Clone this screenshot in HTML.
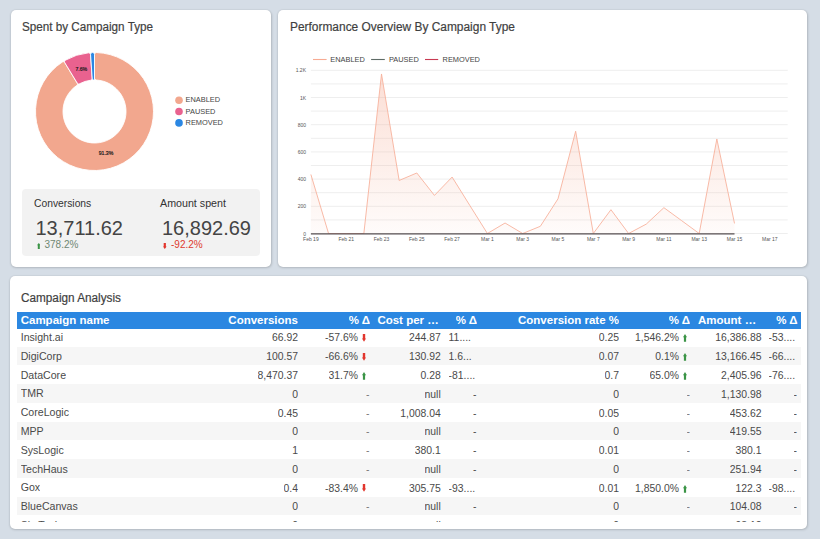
<!DOCTYPE html>
<html><head><meta charset="utf-8">
<style>
html,body{margin:0;padding:0;}
body{width:820px;height:539px;background:#d5dde6;position:relative;overflow:hidden;font-family:"Liberation Sans",sans-serif;}
.card{position:absolute;background:#fff;border-radius:5px;box-shadow:0 0 2px rgba(0,0,0,0.12),0.5px 1px 2.5px rgba(0,0,0,0.14);}
.title{position:absolute;color:#3f3f3f;font-size:12.3px;white-space:nowrap;transform-origin:0 0;-webkit-text-stroke:0.2px #3f3f3f;}
.stat{position:absolute;left:22px;top:189px;width:238px;height:67px;background:#f2f2f2;border-radius:4px;}
.slab{position:absolute;color:#333;font-size:10.3px;white-space:nowrap;}
.sval{position:absolute;color:#444;font-size:20px;white-space:nowrap;}
.sdel{position:absolute;font-size:10px;white-space:nowrap;}
svg.main{position:absolute;left:0;top:0;}
.ax{font-family:"Liberation Sans",sans-serif;font-size:5.0px;fill:#555;}
.lg{font-family:"Liberation Sans",sans-serif;font-size:7.4px;fill:#444;}
.dl{font-family:"Liberation Sans",sans-serif;font-size:5.2px;fill:#1a1a1a;stroke:#1a1a1a;stroke-width:0.18px;}
.thead{position:absolute;left:17px;top:311.9px;width:784px;height:17px;z-index:2;background:#2b87e1;}
.th{position:absolute;top:0;height:16.6px;line-height:16.6px;color:#fff;font-weight:bold;font-size:11.5px;white-space:nowrap;overflow:hidden;}
.tbody{position:absolute;left:17px;top:327.9px;width:784px;height:194.3px;overflow:hidden;}
.r{position:absolute;left:0;width:784px;height:18.76px;background:#fff;}
.r.odd{background:#f6f6f6;height:19.5px;}
.c{position:absolute;top:1.6px;height:18.85px;line-height:18.85px;font-size:10.4px;color:#4a4a4a;white-space:nowrap;text-align:right;overflow:hidden;}
.c1{left:3.7px;text-align:left;font-size:10.6px;top:0.3px;}
.c2{right:503px;}
.c3{right:431.5px;}
.c4{right:360.3px;}
.c5{right:324.5px;}
.c5.l{left:431.6px;right:auto;text-align:left;}
.c6{right:182px;}
.c7{right:111px;}
.c8{right:39.5px;}
.c9{right:4px;}
.c9.l{left:751.5px;right:auto;text-align:left;}
.ar{position:absolute;}
.c3.wa{padding-right:11.5px;right:431.5px;}
.c7.wa{padding-right:11px;right:111px;}
.c3 .ar{right:3.3px;}
.c7 .ar{right:3.3px;}
.ar.dn{top:4.5px;}
.ar.up{top:5.0px;}
.dash{color:#777;}
</style></head><body>
<div class="card" style="left:10.7px;top:9.5px;width:260.6px;height:257px;"></div>
<div class="card" style="left:277.9px;top:9.5px;width:529.1px;height:257px;"></div>
<div class="card" style="left:9.7px;top:276px;width:797.3px;height:253.3px;"></div>

<div class="title" style="left:21.8px;top:20.4px;transform:scaleX(0.95);">Spent by Campaign Type</div>
<div class="title" style="left:289.6px;top:20.4px;transform:scaleX(0.969);">Performance Overview By Campaign Type</div>
<div class="title" style="left:20.8px;top:291.2px;transform:scaleX(0.956);">Campaign Analysis</div>

<div class="stat"></div>
<div class="slab" style="left:34px;top:198px;">Conversions</div>
<div class="slab" style="left:160px;top:197.1px;font-size:10.7px;">Amount spent</div>
<div class="sval" style="left:35.5px;top:216.5px;">13,711.62</div>
<div class="sval" style="left:162px;top:216.5px;">16,892.69</div>
<div class="sdel" style="left:36px;top:238.5px;color:#6f8872;"><svg width="3.6" height="6.2" viewBox="0 0 3.6 8" preserveAspectRatio="none" style="position:absolute;left:0.6px;top:4.2px"><path d="M1.8,0 L3.6,3 H2.8 V7.8 H0.8 V3 H0 Z" fill="#3b9446"/></svg><span style="position:absolute;left:8.5px;top:0">378.2%</span></div>
<div class="sdel" style="left:162.5px;top:238.5px;color:#de3b30;"><svg width="3.6" height="6.2" viewBox="0 0 3.6 8" preserveAspectRatio="none" style="position:absolute;left:0.6px;top:4.2px"><path d="M0.7,0 H2.9 V4.6 H3.6 L1.8,7.8 L0,4.6 H0.7 Z" fill="#e2362d"/></svg><span style="position:absolute;left:8.5px;top:0">-92.2%</span></div>

<svg class="main" width="820" height="539" viewBox="0 0 820 539">
<line x1="310.9" y1="233.50" x2="787.7" y2="233.50" stroke="#ececec" stroke-width="0.9"/>
<line x1="310.9" y1="219.90" x2="787.7" y2="219.90" stroke="#ececec" stroke-width="0.9"/>
<line x1="310.9" y1="206.30" x2="787.7" y2="206.30" stroke="#ececec" stroke-width="0.9"/>
<line x1="310.9" y1="192.70" x2="787.7" y2="192.70" stroke="#ececec" stroke-width="0.9"/>
<line x1="310.9" y1="179.10" x2="787.7" y2="179.10" stroke="#ececec" stroke-width="0.9"/>
<line x1="310.9" y1="165.50" x2="787.7" y2="165.50" stroke="#ececec" stroke-width="0.9"/>
<line x1="310.9" y1="151.90" x2="787.7" y2="151.90" stroke="#ececec" stroke-width="0.9"/>
<line x1="310.9" y1="138.30" x2="787.7" y2="138.30" stroke="#ececec" stroke-width="0.9"/>
<line x1="310.9" y1="124.70" x2="787.7" y2="124.70" stroke="#ececec" stroke-width="0.9"/>
<line x1="310.9" y1="111.10" x2="787.7" y2="111.10" stroke="#ececec" stroke-width="0.9"/>
<line x1="310.9" y1="97.50" x2="787.7" y2="97.50" stroke="#ececec" stroke-width="0.9"/>
<line x1="310.9" y1="83.90" x2="787.7" y2="83.90" stroke="#ececec" stroke-width="0.9"/>
<line x1="310.9" y1="70.30" x2="787.7" y2="70.30" stroke="#ececec" stroke-width="0.9"/>
<text x="306" y="235.50" text-anchor="end" class="ax">0</text>
<text x="306" y="208.30" text-anchor="end" class="ax">200</text>
<text x="306" y="181.10" text-anchor="end" class="ax">400</text>
<text x="306" y="153.90" text-anchor="end" class="ax">600</text>
<text x="306" y="126.70" text-anchor="end" class="ax">800</text>
<text x="306" y="99.50" text-anchor="end" class="ax">1K</text>
<text x="306" y="72.30" text-anchor="end" class="ax">1.2K</text>
<text x="310.90" y="241" text-anchor="middle" class="ax">Feb 19</text>
<text x="346.20" y="241" text-anchor="middle" class="ax">Feb 21</text>
<text x="381.50" y="241" text-anchor="middle" class="ax">Feb 23</text>
<text x="416.80" y="241" text-anchor="middle" class="ax">Feb 25</text>
<text x="452.10" y="241" text-anchor="middle" class="ax">Feb 27</text>
<text x="487.40" y="241" text-anchor="middle" class="ax">Mar 1</text>
<text x="522.70" y="241" text-anchor="middle" class="ax">Mar 3</text>
<text x="558.00" y="241" text-anchor="middle" class="ax">Mar 5</text>
<text x="593.30" y="241" text-anchor="middle" class="ax">Mar 7</text>
<text x="628.60" y="241" text-anchor="middle" class="ax">Mar 9</text>
<text x="663.90" y="241" text-anchor="middle" class="ax">Mar 11</text>
<text x="699.20" y="241" text-anchor="middle" class="ax">Mar 13</text>
<text x="734.50" y="241" text-anchor="middle" class="ax">Mar 15</text>
<text x="769.80" y="241" text-anchor="middle" class="ax">Mar 17</text>
<defs><linearGradient id="fg" gradientUnits="userSpaceOnUse" x1="0" y1="70" x2="0" y2="234"><stop offset="0" stop-color="#f5a88f" stop-opacity="0.38"/><stop offset="1" stop-color="#f5a88f" stop-opacity="0.04"/></linearGradient></defs>
<polygon points="310.90,233.5 310.90,174.48 328.55,233.50 346.20,233.50 363.85,233.50 381.50,73.97 399.15,180.46 416.80,172.98 434.45,195.42 452.10,177.06 469.75,205.35 487.40,233.50 505.05,223.03 522.70,233.50 540.35,226.29 558.00,198.82 575.65,131.23 593.30,233.50 610.95,209.70 628.60,233.50 646.25,224.12 663.90,207.66 681.55,220.58 699.20,233.50 716.85,138.98 734.50,223.44 734.50,233.5" fill="url(#fg)"/>
<polyline points="310.90,174.48 328.55,233.50 346.20,233.50 363.85,233.50 381.50,73.97 399.15,180.46 416.80,172.98 434.45,195.42 452.10,177.06 469.75,205.35 487.40,233.50 505.05,223.03 522.70,233.50 540.35,226.29 558.00,198.82 575.65,131.23 593.30,233.50 610.95,209.70 628.60,233.50 646.25,224.12 663.90,207.66 681.55,220.58 699.20,233.50 716.85,138.98 734.50,223.44" fill="none" stroke="#f7b29d" stroke-width="0.9" stroke-linejoin="miter"/>
<line x1="310.90" y1="233.8" x2="734.50" y2="233.8" stroke="#574f52" stroke-width="1.3"/>
<line x1="313" y1="59.5" x2="326.6" y2="59.5" stroke="#f7ab93" stroke-width="1.1"/>
<text x="330.3" y="62.2" class="lg">ENABLED</text>
<line x1="371.1" y1="59.5" x2="384.8" y2="59.5" stroke="#5f6b66" stroke-width="1.1"/>
<text x="388.9" y="62.2" class="lg">PAUSED</text>
<line x1="425" y1="59.5" x2="438.2" y2="59.5" stroke="#c83a52" stroke-width="1.1"/>
<text x="442.6" y="62.2" class="lg">REMOVED</text>
<path d="M94.50,54.30 Q94.50,52.50 96.30,52.53 A59.0,59.0 0 1 1 62.31,62.06 Q63.83,61.10 64.77,62.64 L77.19,83.05 Q78.13,84.59 76.62,85.57 A31.5,31.5 0 1 0 96.30,80.05 Q94.50,80.00 94.50,78.20 Z" fill="#f2a78e" stroke="#fff" stroke-width="0.9" stroke-linejoin="round"/>
<path d="M64.77,62.64 Q63.83,61.10 65.38,60.19 A59.0,59.0 0 0 1 88.63,52.79 Q90.43,52.64 90.55,54.44 L92.20,78.28 Q92.32,80.08 90.53,80.25 A31.5,31.5 0 0 0 79.69,83.70 Q78.13,84.59 77.19,83.05 Z" fill="#e9628f" stroke="#fff" stroke-width="0.9" stroke-linejoin="round"/>
<path d="M90.55,54.44 Q90.43,52.64 92.22,52.54 A59.0,59.0 0 0 1 92.70,52.53 Q94.50,52.50 94.50,54.30 L94.50,79.01 Q94.50,80.00 93.51,80.02 A31.5,31.5 0 0 0 93.31,80.02 Q92.32,80.08 92.26,79.09 Z" fill="#2b87e3" stroke="#fff" stroke-width="0.9" stroke-linejoin="round"/>
<text x="106" y="155" text-anchor="middle" class="dl">91.3%</text>
<text x="81.3" y="71" text-anchor="middle" class="dl">7.6%</text>
<circle cx="179" cy="100.20" r="3.8" fill="#f2a78e"/>
<text x="185.6" y="102.20" class="lg">ENABLED</text>
<circle cx="179" cy="111.55" r="3.8" fill="#e9628f"/>
<text x="185.6" y="113.55" class="lg">PAUSED</text>
<circle cx="179" cy="122.90" r="3.8" fill="#2b87e3"/>
<text x="185.6" y="124.90" class="lg">REMOVED</text>
</svg>

<div class="thead">
 <div class="th" style="left:3.7px;">Campaign name</div>
 <div class="th" style="right:503px;">Conversions</div>
 <div class="th" style="right:431px;">% Δ</div>
 <div class="th" style="left:360.4px;">Cost per …</div>
 <div class="th" style="right:324px;">% Δ</div>
 <div class="th" style="right:182px;">Conversion rate %</div>
 <div class="th" style="right:111px;">% Δ</div>
 <div class="th" style="left:681px;">Amount …</div>
 <div class="th" style="right:3.5px;">% Δ</div>
</div>
<div class="tbody">
<div class="r" style="top:0.000px"><div class="c c1">Insight.ai</div><div class="c c2">66.92</div><div class="c c3 wa">-57.6%<svg class="ar dn" width="4" height="8" viewBox="0 0 4 8"><path d="M0.8,0 H3.2 V4.6 H4 L2,7.8 L0,4.6 H0.8 Z" fill="#e2362d"/></svg></div><div class="c c4">244.87</div><div class="c c5 l">11....</div><div class="c c6">0.25</div><div class="c c7 wa">1,546.2%<svg class="ar up" width="4" height="8" viewBox="0 0 4 8"><path d="M2,0 L4,3.2 H3.1 V7.8 H0.9 V3.2 H0 Z" fill="#3b9446"/></svg></div><div class="c c8">16,386.88</div><div class="c c9 l">-53....</div></div>
<div class="r odd" style="top:18.760px"><div class="c c1">DigiCorp</div><div class="c c2">100.57</div><div class="c c3 wa">-66.6%<svg class="ar dn" width="4" height="8" viewBox="0 0 4 8"><path d="M0.8,0 H3.2 V4.6 H4 L2,7.8 L0,4.6 H0.8 Z" fill="#e2362d"/></svg></div><div class="c c4">130.92</div><div class="c c5 l">1.6...</div><div class="c c6">0.07</div><div class="c c7 wa">0.1%<svg class="ar up" width="4" height="8" viewBox="0 0 4 8"><path d="M2,0 L4,3.2 H3.1 V7.8 H0.9 V3.2 H0 Z" fill="#3b9446"/></svg></div><div class="c c8">13,166.45</div><div class="c c9 l">-66....</div></div>
<div class="r" style="top:37.520px"><div class="c c1">DataCore</div><div class="c c2">8,470.37</div><div class="c c3 wa">31.7%<svg class="ar up" width="4" height="8" viewBox="0 0 4 8"><path d="M2,0 L4,3.2 H3.1 V7.8 H0.9 V3.2 H0 Z" fill="#3b9446"/></svg></div><div class="c c4">0.28</div><div class="c c5 l">-81....</div><div class="c c6">0.7</div><div class="c c7 wa">65.0%<svg class="ar up" width="4" height="8" viewBox="0 0 4 8"><path d="M2,0 L4,3.2 H3.1 V7.8 H0.9 V3.2 H0 Z" fill="#3b9446"/></svg></div><div class="c c8">2,405.96</div><div class="c c9 l">-76....</div></div>
<div class="r odd" style="top:56.280px"><div class="c c1">TMR</div><div class="c c2">0</div><div class="c c3"><span class="dash">-</span></div><div class="c c4">null</div><div class="c c5 ">-</div><div class="c c6">0</div><div class="c c7"><span class="dash">-</span></div><div class="c c8">1,130.98</div><div class="c c9 ">-</div></div>
<div class="r" style="top:75.040px"><div class="c c1">CoreLogic</div><div class="c c2">0.45</div><div class="c c3"><span class="dash">-</span></div><div class="c c4">1,008.04</div><div class="c c5 ">-</div><div class="c c6">0.05</div><div class="c c7"><span class="dash">-</span></div><div class="c c8">453.62</div><div class="c c9 ">-</div></div>
<div class="r odd" style="top:93.800px"><div class="c c1">MPP</div><div class="c c2">0</div><div class="c c3"><span class="dash">-</span></div><div class="c c4">null</div><div class="c c5 ">-</div><div class="c c6">0</div><div class="c c7"><span class="dash">-</span></div><div class="c c8">419.55</div><div class="c c9 ">-</div></div>
<div class="r" style="top:112.560px"><div class="c c1">SysLogic</div><div class="c c2">1</div><div class="c c3"><span class="dash">-</span></div><div class="c c4">380.1</div><div class="c c5 ">-</div><div class="c c6">0.01</div><div class="c c7"><span class="dash">-</span></div><div class="c c8">380.1</div><div class="c c9 ">-</div></div>
<div class="r odd" style="top:131.320px"><div class="c c1">TechHaus</div><div class="c c2">0</div><div class="c c3"><span class="dash">-</span></div><div class="c c4">null</div><div class="c c5 ">-</div><div class="c c6">0</div><div class="c c7"><span class="dash">-</span></div><div class="c c8">251.94</div><div class="c c9 ">-</div></div>
<div class="r" style="top:150.080px"><div class="c c1">Gox</div><div class="c c2">0.4</div><div class="c c3 wa">-83.4%<svg class="ar dn" width="4" height="8" viewBox="0 0 4 8"><path d="M0.8,0 H3.2 V4.6 H4 L2,7.8 L0,4.6 H0.8 Z" fill="#e2362d"/></svg></div><div class="c c4">305.75</div><div class="c c5 l">-93....</div><div class="c c6">0.01</div><div class="c c7 wa">1,850.0%<svg class="ar up" width="4" height="8" viewBox="0 0 4 8"><path d="M2,0 L4,3.2 H3.1 V7.8 H0.9 V3.2 H0 Z" fill="#3b9446"/></svg></div><div class="c c8">122.3</div><div class="c c9 l">-98....</div></div>
<div class="r odd" style="top:168.840px"><div class="c c1">BlueCanvas</div><div class="c c2">0</div><div class="c c3"><span class="dash">-</span></div><div class="c c4">null</div><div class="c c5 ">-</div><div class="c c6">0</div><div class="c c7"><span class="dash">-</span></div><div class="c c8">104.08</div><div class="c c9 ">-</div></div>
<div class="r" style="top:187.600px"><div class="c c1">SkyTech</div><div class="c c2">0</div><div class="c c3"><span class="dash">-</span></div><div class="c c4">null</div><div class="c c5 ">-</div><div class="c c6">0</div><div class="c c7"><span class="dash">-</span></div><div class="c c8">98.12</div><div class="c c9 ">-</div></div>
</div>
</body></html>
